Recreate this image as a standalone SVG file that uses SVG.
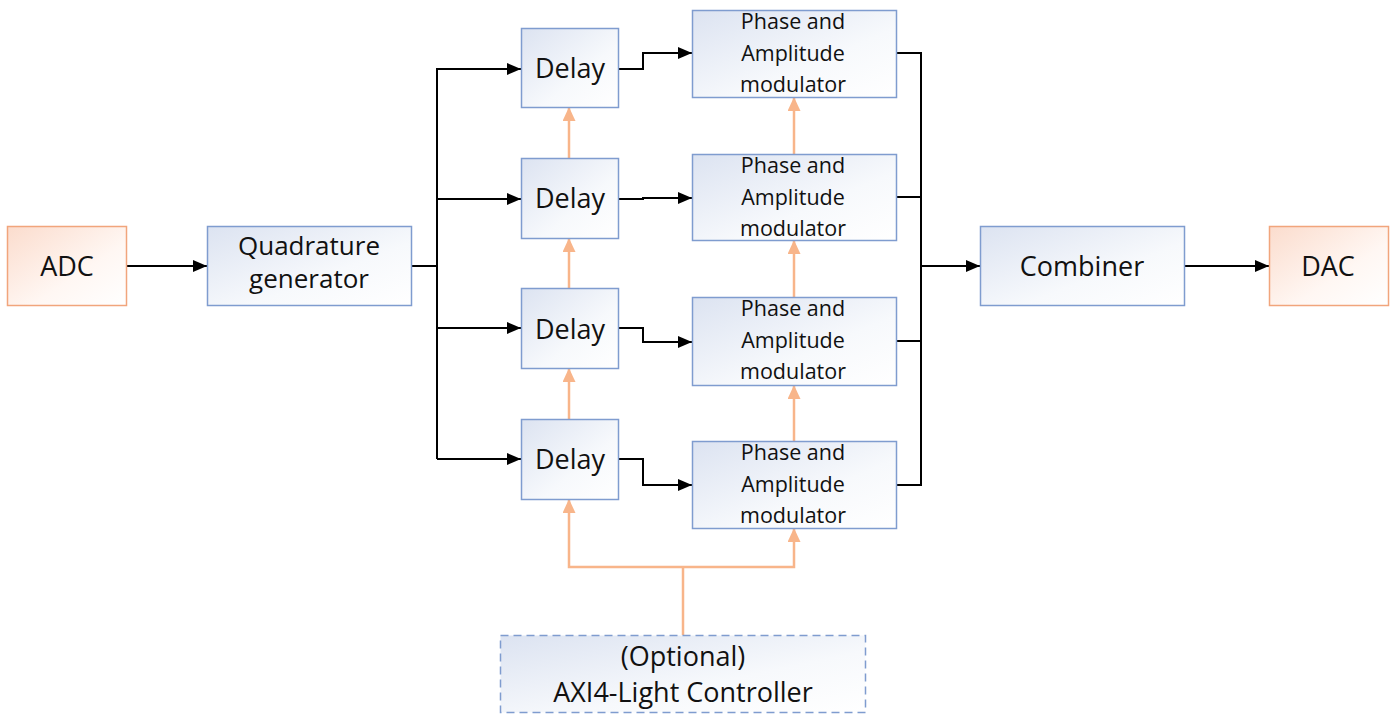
<svg xmlns="http://www.w3.org/2000/svg" width="1392" height="715" viewBox="0 0 1392 715">
<defs>
<linearGradient id="gb" x1="0" y1="0" x2="1" y2="1"><stop offset="0" stop-color="#dce3f1"/><stop offset="0.6" stop-color="#f7f9fc"/><stop offset="1" stop-color="#ffffff"/></linearGradient>
<linearGradient id="go" x1="0" y1="0" x2="1" y2="1"><stop offset="0" stop-color="#fbdccd"/><stop offset="0.6" stop-color="#fff7f3"/><stop offset="1" stop-color="#ffffff"/></linearGradient>
<marker id="ab" viewBox="0 0 14 12" refX="14" refY="6" markerWidth="14" markerHeight="12" markerUnits="userSpaceOnUse" orient="auto"><path d="M0,0 L14,6 L0,12 z" fill="#000"/></marker>
<marker id="ao" viewBox="0 0 14 13" refX="14" refY="6.5" markerWidth="14" markerHeight="13" markerUnits="userSpaceOnUse" orient="auto"><path d="M0,0 L14,6.5 L0,13 z" fill="#f8b58a"/></marker>
</defs>
<style>
.b{fill:url(#gb);stroke:#7f9ccf;stroke-width:1.5}
.o{fill:url(#go);stroke:#f1a57c;stroke-width:1.5}
.d{fill:url(#gb);stroke:#7f9ccf;stroke-width:1.5;stroke-dasharray:8 5}
text{font-family:"Open Sans","Liberation Sans",sans-serif;fill:#111;text-anchor:middle}
.t1{font-size:27px}
.t2{font-size:21.5px}
.tq{font-size:26px}
.k{fill:none;stroke:#000;stroke-width:2}
.ko{fill:none;stroke:#f8b58a;stroke-width:2.5}
</style>
<g id="connectors">
<path class="k" d="M127,266 H207" marker-end="url(#ab)"/>
<path class="k" d="M411,266 H437"/>
<path class="k" d="M437,459 V69 H521" marker-end="url(#ab)"/>
<path class="k" d="M437,199 H521" marker-end="url(#ab)"/>
<path class="k" d="M437,328 H521" marker-end="url(#ab)"/>
<path class="k" d="M437,459 H521" marker-end="url(#ab)"/>
<path class="k" d="M618,69 H643 V53 H692" marker-end="url(#ab)"/>
<path class="k" d="M618,199 H643 V198 H692" marker-end="url(#ab)"/>
<path class="k" d="M618,328 H643 V342 H692" marker-end="url(#ab)"/>
<path class="k" d="M618,459 H643 V485 H692" marker-end="url(#ab)"/>
<path class="k" d="M896,53 H921 V485 H896"/>
<path class="k" d="M896,197 H921"/>
<path class="k" d="M896,341 H921"/>
<path class="k" d="M921,266 H980" marker-end="url(#ab)"/>
<path class="k" d="M1184,266 H1269" marker-end="url(#ab)"/>
<path class="ko" d="M569,158 V107" marker-end="url(#ao)"/>
<path class="ko" d="M569,288 V238" marker-end="url(#ao)"/>
<path class="ko" d="M569,419 V368" marker-end="url(#ao)"/>
<path class="ko" d="M794,154 V97" marker-end="url(#ao)"/>
<path class="ko" d="M794,297 V240" marker-end="url(#ao)"/>
<path class="ko" d="M794,441 V385" marker-end="url(#ao)"/>
<path class="ko" d="M683,635 V567"/>
<path class="ko" d="M683,567 H569 V499" marker-end="url(#ao)"/>
<path class="ko" d="M683,567 H794 V528" marker-end="url(#ao)"/>
</g>
<g id="adc"><rect class="o" x="7.5" y="226.5" width="119" height="79"/><text class="t1" x="67" y="276">ADC</text></g>
<g id="quad"><rect class="b" x="207.5" y="226.5" width="204" height="79"/><text class="tq" x="309" y="255">Quadrature</text><text class="tq" x="309" y="288">generator</text></g>
<g id="delay1"><rect class="b" x="521.5" y="28.5" width="97" height="79"/><text class="t1" x="570" y="78">Delay</text></g>
<g id="delay2"><rect class="b" x="521.5" y="158.5" width="97" height="80"/><text class="t1" x="570" y="208">Delay</text></g>
<g id="delay3"><rect class="b" x="521.5" y="288.5" width="97" height="80"/><text class="t1" x="570" y="339">Delay</text></g>
<g id="delay4"><rect class="b" x="521.5" y="419.5" width="97" height="80"/><text class="t1" x="570" y="469">Delay</text></g>
<g id="pam1"><rect class="b" x="692.5" y="10.5" width="204" height="87"/><text class="t2" x="793" y="29">Phase and</text><text class="t2" x="793" y="61">Amplitude</text><text class="t2" x="793" y="92">modulator</text></g>
<g id="pam2"><rect class="b" x="692.5" y="154.5" width="204" height="86"/><text class="t2" x="793" y="173">Phase and</text><text class="t2" x="793" y="205">Amplitude</text><text class="t2" x="793" y="236">modulator</text></g>
<g id="pam3"><rect class="b" x="692.5" y="297.5" width="204" height="88"/><text class="t2" x="793" y="316">Phase and</text><text class="t2" x="793" y="348">Amplitude</text><text class="t2" x="793" y="379">modulator</text></g>
<g id="pam4"><rect class="b" x="692.5" y="441.5" width="204" height="87"/><text class="t2" x="793" y="460">Phase and</text><text class="t2" x="793" y="492">Amplitude</text><text class="t2" x="793" y="523">modulator</text></g>
<g id="combiner"><rect class="b" x="980.5" y="226.5" width="204" height="79"/><text class="t1" x="1082" y="276">Combiner</text></g>
<g id="dac"><rect class="o" x="1269.5" y="226.5" width="119" height="79"/><text class="t1" x="1328" y="276">DAC</text></g>
<g id="axi"><rect class="d" x="500.5" y="635.5" width="365" height="77"/><text class="t1" x="683" y="666">(Optional)</text><text class="t1" x="683" y="702">AXI4-Light Controller</text></g>
</svg>
